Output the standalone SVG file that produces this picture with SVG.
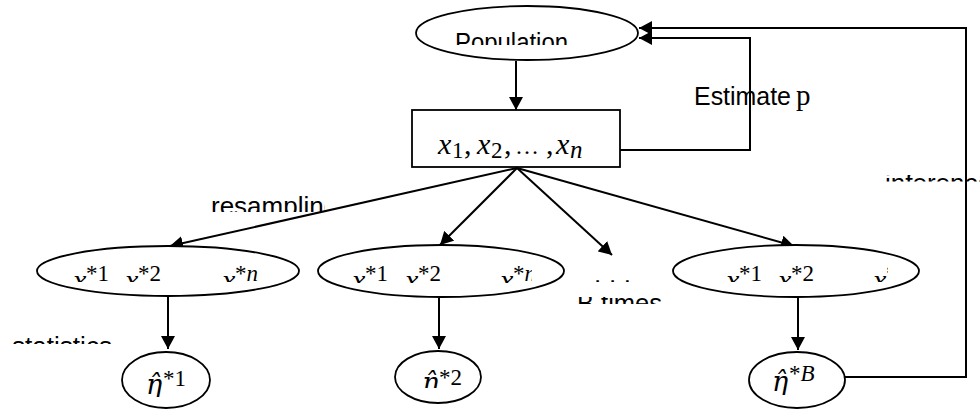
<svg xmlns="http://www.w3.org/2000/svg" width="980" height="410" viewBox="0 0 980 410">
<style>
.shape{fill:#fff;stroke:#000;stroke-width:1.8}
.conn{fill:none;stroke:#000;stroke-width:2}
.lbl{font-family:"Liberation Sans",Arial,sans-serif;font-size:26px;fill:#000}
.m{font-family:"Liberation Serif","Times New Roman",serif;font-style:italic;font-size:30px;fill:#000}
.s{font-style:normal;font-size:23px}
.eta{font-family:"DejaVu Serif","Liberation Serif",serif;font-style:italic;font-size:27px}
</style>
<defs>
<marker id="ah" markerUnits="userSpaceOnUse" markerWidth="14" markerHeight="14" refX="13" refY="7" orient="auto">
<path d="M0,0 L13,7 L0,14 z" fill="#000"/>
</marker>
<clipPath id="cPop"><rect x="400" y="0" width="250" height="45"/></clipPath>
<clipPath id="cRes"><rect x="200" y="180" width="125" height="32"/></clipPath>
<clipPath id="cStat"><rect x="0" y="320" width="130" height="24"/></clipPath>
<clipPath id="cB"><rect x="570" y="297" width="110" height="7"/></clipPath>
<clipPath id="cInf"><rect x="870" y="175" width="110" height="6.5"/></clipPath>
<clipPath id="cDots"><rect x="590" y="278.5" width="50" height="3.5"/></clipPath>
<clipPath id="cE1"><rect x="40" y="245" width="260" height="37"/></clipPath>
<clipPath id="cE2"><rect x="320" y="245" width="212" height="38"/></clipPath>
<clipPath id="cE3"><rect x="680" y="245" width="208" height="37"/></clipPath>
<clipPath id="cC1"><rect x="125" y="355" width="85" height="42"/></clipPath>
<clipPath id="cC2"><rect x="398" y="355" width="82" height="33"/></clipPath>
<clipPath id="cC3"><rect x="750" y="355" width="92" height="40"/></clipPath>
</defs>

<g id="connectors">
<line class="conn" x1="516" y1="61" x2="516" y2="110" marker-end="url(#ah)"/>
<line class="conn" x1="517" y1="168" x2="170" y2="246" marker-end="url(#ah)"/>
<line class="conn" x1="517" y1="168" x2="440" y2="245" marker-end="url(#ah)"/>
<line class="conn" x1="517" y1="168" x2="612" y2="255" marker-end="url(#ah)"/>
<line class="conn" x1="517" y1="168" x2="794" y2="246" marker-end="url(#ah)"/>
<line class="conn" x1="168" y1="297" x2="168" y2="349" marker-end="url(#ah)"/>
<line class="conn" x1="439" y1="297" x2="439" y2="349" marker-end="url(#ah)"/>
<line class="conn" x1="798" y1="297" x2="798" y2="350" marker-end="url(#ah)"/>
<polyline class="conn" points="620,150 750,150 750,38 639,38" marker-end="url(#ah)"/>
<polyline class="conn" points="845,377 966,377 966,28 639,28" marker-end="url(#ah)"/>
</g>

<g id="population">
<ellipse class="shape" cx="527" cy="33" rx="111" ry="27"/>
<text class="lbl" x="455" y="51" font-size="25" textLength="113" lengthAdjust="spacingAndGlyphs" clip-path="url(#cPop)">Population</text>
</g>

<g id="sample">
<rect class="shape" x="412" y="110" width="208" height="57"/>
<text class="m" y="154"><tspan x="438">x</tspan><tspan class="s" x="452" dy="4">1</tspan><tspan style="font-style:normal" x="464" dy="-4">,</tspan><tspan x="477">x</tspan><tspan class="s" x="491" dy="4">2</tspan><tspan style="font-style:normal" x="504" dy="-4">,</tspan><tspan style="font-style:normal;font-size:24px" x="515">…</tspan><tspan style="font-style:normal" x="546">,</tspan><tspan x="556">x</tspan><tspan x="570" dy="4" style="font-size:25px">n</tspan></text>
</g>

<g id="label-estimate">
<text class="lbl" y="105"><tspan x="694" font-size="25" textLength="97" lengthAdjust="spacingAndGlyphs">Estimate</tspan><tspan x="796" style="font-family:'Liberation Serif','Times New Roman',serif;font-size:29px">p</tspan></text>
</g>

<g id="label-resampling">
<text class="lbl" x="211" y="215" font-size="27" clip-path="url(#cRes)">resampling</text>
</g>

<g id="label-statistics">
<text class="lbl" x="12" y="355" textLength="100" lengthAdjust="spacingAndGlyphs" clip-path="url(#cStat)">statistics</text>
</g>

<g id="label-btimes">
<text class="lbl" x="577" y="311.5" textLength="85" lengthAdjust="spacingAndGlyphs" clip-path="url(#cB)">B times</text>
</g>

<g id="label-inference">
<text class="lbl" x="885" y="191.5" clip-path="url(#cInf)">inference</text>
</g>

<g id="label-dots">
<text class="lbl" x="594" y="283" font-size="60" textLength="37" lengthAdjust="spacing" clip-path="url(#cDots)">...</text>
</g>

<g id="resample1">
<ellipse class="shape" cx="168" cy="271" rx="131" ry="25"/>
<text class="m" y="290" clip-path="url(#cE1)"><tspan x="73">x</tspan><tspan class="s" x="86" dy="-9">*1</tspan><tspan x="125" dy="9">x</tspan><tspan class="s" x="138" dy="-9">*2</tspan><tspan x="222" dy="9">x</tspan><tspan class="s" x="235" dy="-9">*<tspan style="font-style:italic">n</tspan></tspan></text>
</g>

<g id="resample2">
<ellipse class="shape" cx="441" cy="271" rx="123" ry="26"/>
<text class="m" y="290" clip-path="url(#cE2)"><tspan x="352">x</tspan><tspan class="s" x="365" dy="-9">*1</tspan><tspan x="405" dy="9">x</tspan><tspan class="s" x="418" dy="-9">*2</tspan><tspan x="500" dy="9">x</tspan><tspan class="s" x="513" dy="-9">*<tspan style="font-style:italic">n</tspan></tspan></text>
</g>

<g id="resampleB">
<ellipse class="shape" cx="796" cy="271" rx="123" ry="26"/>
<text class="m" y="290" clip-path="url(#cE3)"><tspan x="726">x</tspan><tspan class="s" x="739" dy="-9">*1</tspan><tspan x="778" dy="9">x</tspan><tspan class="s" x="791" dy="-9">*2</tspan><tspan x="873" dy="9">x</tspan><tspan class="s" x="886" dy="-9">*<tspan style="font-style:italic">n</tspan></tspan></text>
</g>

<g id="stat1">
<ellipse class="shape" cx="166" cy="380" rx="44" ry="28"/>
<text class="m" y="394" clip-path="url(#cC1)"><tspan class="eta" x="146">η̂</tspan><tspan class="s" x="163" dy="-8">*1</tspan></text>
</g>

<g id="stat2">
<ellipse class="shape" cx="438" cy="377" rx="43" ry="26"/>
<text class="m" y="392" clip-path="url(#cC2)"><tspan class="eta" x="422">η̂</tspan><tspan class="s" x="439" dy="-7">*2</tspan></text>
</g>

<g id="statB">
<ellipse class="shape" cx="797" cy="380" rx="48" ry="28"/>
<text class="m" y="391" clip-path="url(#cC3)"><tspan class="eta" x="772">η̂</tspan><tspan class="s" x="789" dy="-10">*<tspan style="font-style:italic">B</tspan></tspan></text>
</g>
</svg>
